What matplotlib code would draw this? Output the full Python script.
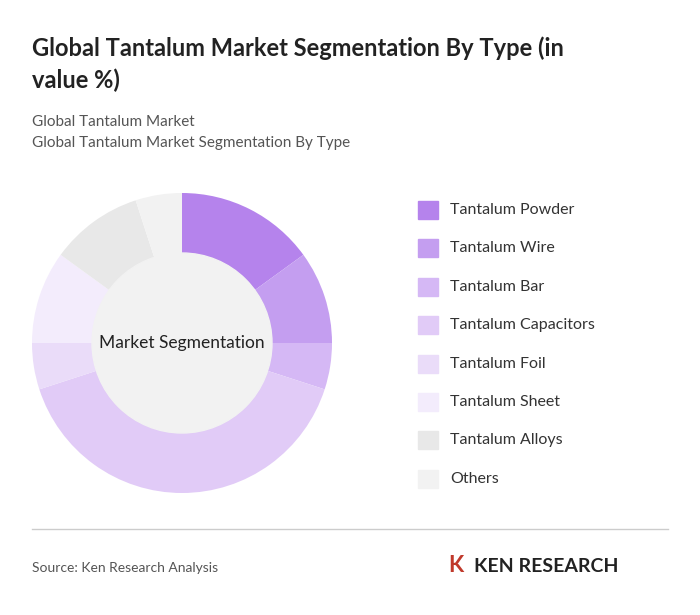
import matplotlib
matplotlib.use("Agg")
import matplotlib.pyplot as plt
from matplotlib.patches import Rectangle, Circle

plt.rcParams['font.family'] = ['Lato', 'DejaVu Sans']

categories = ["Tantalum Powder", "Tantalum Wire", "Tantalum Bar", "Tantalum Capacitors",
              "Tantalum Foil", "Tantalum Sheet", "Tantalum Alloys", "Others"]
values = [15, 10, 5, 40, 5, 10, 10, 5]
colors = ["#b583ec", "#c49ef0", "#d5b8f5", "#e1cbf7", "#eadcf9", "#f3ecfc", "#e8e8e8", "#f2f2f2"]

W, H = 700, 615
fig = plt.figure(figsize=(7, 6.15), dpi=100)
fig.patch.set_facecolor("white")
fx = lambda x: x / W
fy = lambda y: 1 - y / H

fig.text(fx(32), fy(48), "Global Tantalum Market Segmentation By Type (in", fontsize=17, fontweight="bold", color="#222222", va="center")
fig.text(fx(32), fy(80), "value %)", fontsize=17, fontweight="bold", color="#222222", va="center")
fig.text(fx(32), fy(122), "Global Tantalum Market", fontsize=11, color="#555555", va="center")
fig.text(fx(32), fy(143), "Global Tantalum Market Segmentation By Type", fontsize=11, color="#555555", va="center")

ax = fig.add_axes([fx(32), fy(493), 300 / W, 300 / H])
ax.pie(values, colors=colors, startangle=90, counterclock=False,
       wedgeprops=dict(linewidth=0))
ax.add_patch(Circle((0, 0), 0.6, color="#f2f2f2", zorder=5))
ax.text(0, 0, "Market Segmentation", ha="center", va="center", fontsize=12.5, color="#222222", zorder=6)
ax.set_xlim(-1, 1)
ax.set_ylim(-1, 1)
ax.set_aspect("equal")

for i, (c, col) in enumerate(zip(categories, colors)):
    y = 210 + i * 38.4
    fig.patches.append(Rectangle((fx(418), fy(y + 9)), 20 / W, 18 / H, transform=fig.transFigure, color=col))
    fig.text(fx(450), fy(y), c, fontsize=11.5, color="#333333", va="center")

fig.add_artist(plt.Line2D([fx(32), fx(668)], [fy(529), fy(529)], color="#cccccc", lw=1))
fig.text(fx(32), fy(568), "Source: Ken Research Analysis", fontsize=10, color="#555555", va="center")
fig.text(fx(448), fy(566), "K", fontsize=16, fontweight="bold", color="#c0392b", va="center")
fig.text(fx(474), fy(566), "KEN RESEARCH", fontsize=14, fontweight="bold", color="#222222", va="center")

fig.savefig("out.png", dpi=100)
